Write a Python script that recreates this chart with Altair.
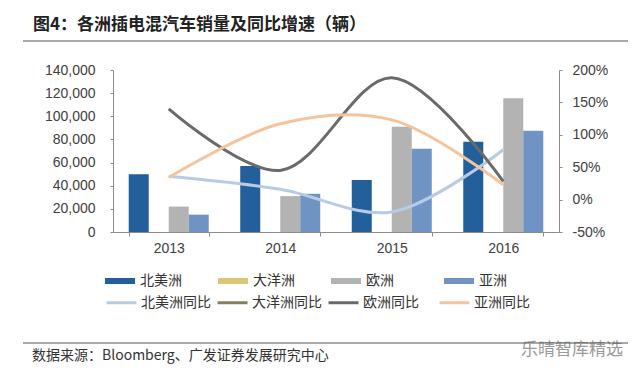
import altair as alt
import pandas as pd

years = ["2013", "2014", "2015", "2016"]
regions = ["北美洲", "大洋洲", "欧洲", "亚洲"]
bar_colors = ["#23609B", "#DCC674", "#B3B3B3", "#6F94C4"]

na_sales = [50000, 57000, 45000, 78000]
oc_sales = [None, None, None, None]
eu_sales = [22000, 31000, 91000, 115500]
as_sales = [15000, 33000, 72000, 87500]

yoy_names = ["北美洲同比", "大洋洲同比", "欧洲同比", "亚洲同比"]
yoy_colors = ["#B7CBE6", "#877F5C", "#6A6A6A", "#F5C39C"]
na_yoy = [36, 16, -19, 77]
oc_yoy = [None, None, None, None]
eu_yoy = [140, 45, 188, 28]
as_yoy = [34, 117, 123, 23]

left_ticks = [0, 20000, 40000, 60000, 80000, 100000, 120000, 140000]
right_ticks = [-50, 0, 50, 100, 150, 200]

title_text = "图4：各洲插电混汽车销量及同比增速（辆）"
source_text = "数据来源：Bloomberg、广发证券发展研究中心"
mark_text = "乐晴智库精选"

# ---- tables ----
bar_rows = []
for reg, vals in zip(regions, [na_sales, oc_sales, eu_sales, as_sales]):
    for y, v in zip(years, vals):
        if v is not None:
            bar_rows.append({"year": y, "region": reg, "sales": v})
bars_df = pd.DataFrame(bar_rows)

line_rows = []
for name, vals in zip(yoy_names, [na_yoy, oc_yoy, eu_yoy, as_yoy]):
    for y, v in zip(years, vals):
        if v is not None:
            line_rows.append({"year": y, "series": name, "yoy": v})
lines_df = pd.DataFrame(line_rows)

LAB_FONT = "Liberation Sans"
CJK = "Noto Sans CJK SC"

x_enc = alt.X(
    "year:N",
    sort=years,
    scale=alt.Scale(paddingInner=0.2825, paddingOuter=0.141),
    axis=alt.Axis(
        title=None, labelAngle=0, tickBand="extent", tickSize=4, labelPadding=5,
        domainColor="#8C8C8C", tickColor="#8C8C8C", labelColor="#404040",
        labelFont=LAB_FONT, labelFontSize=14,
    ),
)

bars = alt.Chart(bars_df).mark_bar().encode(
    x=x_enc,
    xOffset=alt.XOffset("region:N", sort=regions,
                        scale=alt.Scale(domain=regions, paddingInner=0, paddingOuter=0)),
    y=alt.Y(
        "sales:Q",
        scale=alt.Scale(domain=[0, 140000], nice=False),
        axis=alt.Axis(
            title=None, values=left_ticks, format=",.0f", orient="left", grid=False,
            tickSize=3, labelPadding=15, domainColor="#8C8C8C", tickColor="#8C8C8C",
            labelColor="#404040", labelFont=LAB_FONT, labelFontSize=14,
        ),
    ),
    color=alt.Color(
        "region:N",
        scale=alt.Scale(domain=regions, range=bar_colors),
        legend=alt.Legend(
            title=None, orient="none", legendX=-8, legendY=196, columns=4,
            gridAlign="all", columnPadding=36, padding=0,
            symbolType="M-1,-0.2H1V0.2H-1Z", symbolSize=900, symbolStrokeWidth=0,
            labelFont=CJK, labelFontSize=14, labelColor="#333333", labelOffset=5,
        ),
    ),
)

lines = alt.Chart(lines_df).mark_line(interpolate="catmull-rom", strokeWidth=3).encode(
    x=x_enc,
    y=alt.Y(
        "yoy:Q",
        scale=alt.Scale(domain=[-50, 200], nice=False),
        axis=alt.Axis(
            title=None, values=right_ticks, orient="right", grid=False,
            labelExpr="datum.value + '%'",
            tickSize=3, labelPadding=10, domainColor="#8C8C8C", tickColor="#8C8C8C",
            labelColor="#404040", labelFont=LAB_FONT, labelFontSize=14,
        ),
    ),
    stroke=alt.Stroke(
        "series:N",
        scale=alt.Scale(domain=yoy_names, range=yoy_colors),
        legend=alt.Legend(
            title=None, orient="none", legendX=-8, legendY=216, columns=4,
            gridAlign="all", columnPadding=0, padding=0,
            symbolType="M-1,0H1", symbolSize=900, symbolStrokeWidth=3,
            labelFont=CJK, labelFontSize=14, labelColor="#333333", labelOffset=3,
        ),
    ),
    order=alt.Order("year:N"),
)

title_df = pd.DataFrame({"t": [title_text]})
title = alt.Chart(title_df).mark_text(
    align="left", baseline="middle", font=CJK, fontSize=17, fontWeight="bold", color="#222222"
).encode(text="t:N", x=alt.value(-80), y=alt.value(-45))

source_df = pd.DataFrame({"t": [source_text]})
source = alt.Chart(source_df).mark_text(
    align="left", baseline="middle", font=CJK, fontSize=14, color="#333333"
).encode(text="t:N", x=alt.value(-81), y=alt.value(286))

wm_df = pd.DataFrame({"t": [mark_text]})
wm = alt.Chart(wm_df).mark_text(
    align="left", baseline="middle", font=CJK, fontSize=17, color="#9A9A9A"
).encode(text="t:N", x=alt.value(408), y=alt.value(280))

top_rule = alt.Chart(title_df).mark_rule(color="#555555", strokeWidth=1.2).encode(
    x=alt.value(-90), x2=alt.value(515), y=alt.value(-29)
)
bottom_rule = alt.Chart(source_df).mark_rule(color="#555555", strokeWidth=1.2).encode(
    x=alt.value(-90), x2=alt.value(515), y=alt.value(273)
)

chart = (
    alt.layer(bars, lines, title, source, wm, top_rule, bottom_rule)
    .resolve_scale(y="independent", color="independent", stroke="independent")
    .properties(
        width=446, height=162,
        autosize=alt.AutoSizeParams(type="none"),
        padding={"left": 105, "top": 62, "right": 73, "bottom": 137},
        background="white",
    )
    .configure_view(stroke=None)
)

chart.save("out.html", embed_options={"renderer": "svg", "actions": False})
